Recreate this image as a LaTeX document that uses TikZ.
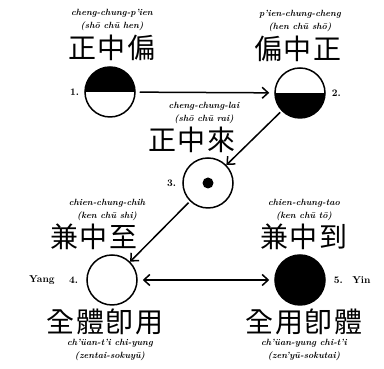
\documentclass[tikz,border=0pt]{standalone}
\usepackage{fontspec}
\newfontfamily\hanfont[LetterSpace=6]{Noto Sans CJK TC}
\usetikzlibrary{arrows.meta,positioning}

\begin{document}
\begin{tikzpicture}[
  x=1pt,y=1pt,
  rank/.style={circle,draw,line width=1.5pt,minimum size=50pt,inner sep=0pt},
  upperhalf/.style={rank,path picture={\fill (path picture bounding box.north west) rectangle (path picture bounding box.east);}},
  lowerhalf/.style={rank,path picture={\fill (path picture bounding box.south west) rectangle (path picture bounding box.east);}},
  centredot/.style={rank,path picture={\fill (path picture bounding box.center) circle (5.5pt);}},
  han/.style={font=\hanfont\fontsize{28}{30}\selectfont,inner sep=0pt},
  rom/.style={font=\fontsize{9}{10}\selectfont\bfseries\itshape,inner sep=0pt},
  num/.style={font=\fontsize{10}{11}\selectfont\bfseries,inner sep=0pt},
  arr/.style={-{Straight Barb[length=6pt,width=11pt,line width=1.5pt]},line width=1.5pt},
  both/.style={{Straight Barb[length=6pt,width=11pt,line width=1.5pt]}-{Straight Barb[length=6pt,width=11pt,line width=1.5pt]},line width=1.5pt},
]
\useasboundingbox (0,0) rectangle (384,369);

% the five ranks
\node[upperhalf] (c1) at (110,277) {};
\node[lowerhalf] (c2) at (300,276) {};
\node[centredot] (c3) at (208,186) {};
\node[rank] (c4) at (112,89) {};
\node[rank,fill=black] (c5) at (300,89) {};

% 1
\node[num,left=5pt of c1] (n1) {1.};
\node[han,above=5pt of c1,xshift=2pt] (h1) {正中偏};
\node[rom,above=4pt of h1] (k1) {(shō chū hen)};
\node[rom,above=4pt of k1] (w1) {cheng-chung-p'ien};

% 2
\node[num,right=6pt of c2] (n2) {2.};
\node[han,above=5pt of c2,xshift=-2pt] (h2) {偏中正};
\node[rom,above=4pt of h2,xshift=2pt] (k2) {(hen chū shō)};
\node[rom,above=4pt of k2] (w2) {p'ien-chung-cheng};

% 3
\node[num,left=6pt of c3] (n3) {3.};
\node[han,above=4pt of c3,xshift=-16pt] (h3) {正中來};
\node[rom,above=3pt of h3,xshift=12pt] (k3) {(shō chū rai)};
\node[rom,above=4pt of k3] (w3) {cheng-chung-lai};

% 4
\node[num,left=8pt of c4] (n4) {4.};
\node[num,left=14pt of n4] (yang) {Yang};
\node[han,above=4pt of c4,xshift=-18pt] (h4) {兼中至};
\node[rom,above=3pt of h4,xshift=13pt] (k4) {(ken chū shi)};
\node[rom,above=4pt of k4] (w4) {chien-chung-chih};
\node[han,below=3pt of c4,xshift=-7pt] (b4) {全體卽用};
\node[rom,below=4pt of b4,xshift=5pt] (v4) {ch'üan-t'i chi-yung};
\node[rom,below=4pt of v4] (z4) {(zentai-sokuyū)};

% 5
\node[num,right=8pt of c5] (n5) {5.};
\node[num,right=9pt of n5] (yin) {Yin};
\node[han,above=4pt of c5,xshift=4pt] (h5) {兼中到};
\node[rom,above=3pt of h5] (k5) {(ken chū tō)};
\node[rom,above=4pt of k5] (w5) {chien-chung-tao};
\node[han,below=3pt of c5,xshift=4pt] (b5) {全用卽體};
\node[rom,below=4pt of b5] (v5) {ch'üan-yung chi-t'i};
\node[rom,below=4pt of v5] (z5) {(zen'yū-sokutai)};

% arrows
\draw[arr,shorten <=4pt,shorten >=5pt] (c1) -- (c2);
\draw[arr,shorten <=2pt] (c2) -- (c3);
\draw[arr,shorten <=2pt] (c3) -- (c4);
\draw[both,shorten <=5pt,shorten >=5pt] (c4) -- (c5);

\end{tikzpicture}
\end{document}
